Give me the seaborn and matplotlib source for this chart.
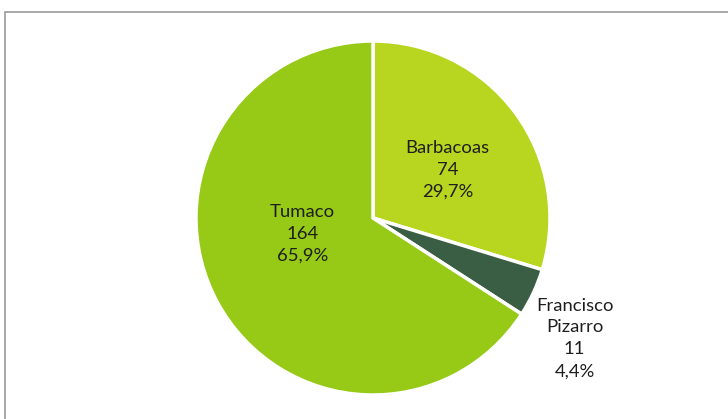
import seaborn as sns
import matplotlib.pyplot as plt
from matplotlib.patches import Rectangle

# data
municipios = ["Barbacoas", "Francisco\nPizarro", "Tumaco"]
casos = [74, 11, 164]
porcentajes = ["29,7%", "4,4%", "65,9%"]
colores = ["#b8d620", "#3a5e44", "#96ca16"]

# label positions (layout only)
pos_etiquetas = [(0.42, 0.27), (1.14, -0.68), (-0.40, -0.09)]

sns.set_style("white")
plt.rcParams["font.family"] = ["Lato", "DejaVu Sans"]

fig = plt.figure(figsize=(7.28, 4.19), dpi=100)
ax = fig.add_axes([0, 0, 1, 1])

ax.pie(casos, colors=colores, startangle=90, counterclock=False,
       radius=1, wedgeprops=dict(edgecolor="white", linewidth=2.5))

for nombre, n, pct, (x, y) in zip(municipios, casos, porcentajes, pos_etiquetas):
    ax.text(x, y, f"{nombre}\n{n}\n{pct}", ha="center", va="center",
            fontsize=13.3, color="#1e1e1e", linespacing=1.45)

# map data units to pixels: center (373, 218), radius 177 px
ax.set_aspect("auto")
ax.set_xlim(-373 / 177, (728 - 373) / 177)
ax.set_ylim(-(419 - 218) / 177, 218 / 177)
ax.axis("off")

# chart frame (cut off on the right and bottom)
fig.patches.append(Rectangle((5 / 728, -0.2), 1.2, 0.2 + 1 - 12 / 419,
                             transform=fig.transFigure, fill=False,
                             edgecolor="#9a9a9a", linewidth=1.2))

fig.savefig("out.png", dpi=100)
